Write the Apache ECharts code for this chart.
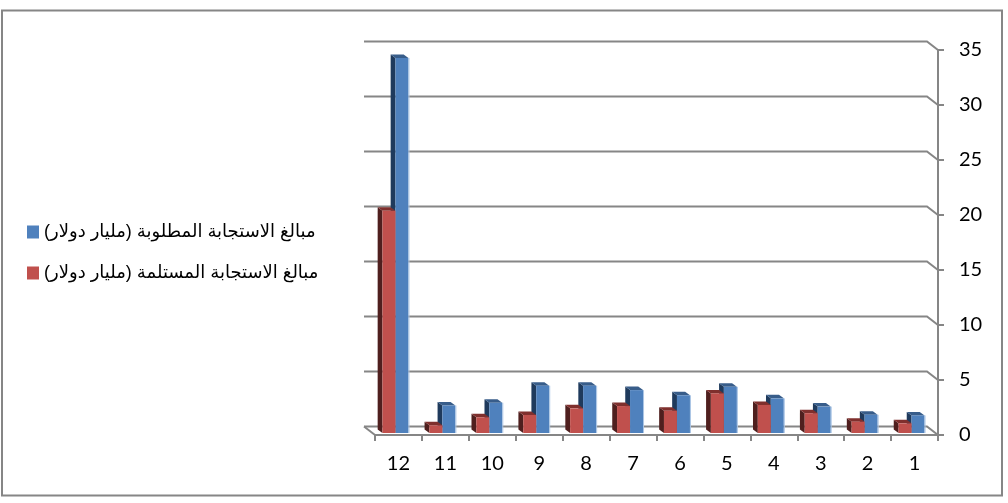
<!DOCTYPE html>
<html><head><meta charset="utf-8">
<style>html,body{margin:0;padding:0;background:#fff}#c{width:1008px;height:503px}</style>
<script src="https://cdn.jsdelivr.net/npm/echarts@6/dist/echarts.min.js"></script>
</head><body><div id="c"></div>
<script>
const categories = ['1','2','3','4','5','6','7','8','9','10','11','12'];
const requested = [1.6,1.66,2.4,3.15,4.2,3.43,3.9,4.3,4.3,2.75,2.5,34.1];
const received  = [0.88,1.03,1.8,2.55,3.6,2.03,2.45,2.24,1.64,1.43,0.7,20.2];
const ticks = [0,5,10,15,20,25,30,35];
const nameRequested = '\u202Bمبالغ الاستجابة المطلوبة (مليار دولار)\u202C';
const nameReceived  = '\u202Bمبالغ الاستجابة المستلمة (مليار دولار)\u202C';

const GRID = '#868686';
const DX = 4.8, DY = 3.5, BW = 13, BASE = -2, SHIFT = -3;

function barRender(side, front, dark, top) {
  return function (params, api) {
    const x = api.coord([api.value(0), 0])[0] + SHIFT;
    const p = api.coord([api.value(0), api.value(1)]);
    const y0 = api.coord([api.value(0), 0])[1] + BASE;
    const yt = p[1] + BASE;
    const xl = side < 0 ? x - BW : x, xr = xl + BW;
    const shape = pts => ({ points: pts });
    return { type: 'group', children: [
      { type: 'polygon', shape: shape([[xl-DX,yt-DY],[xl,yt],[xl,y0],[xl-DX,y0-DY]]), style: { fill: dark } },
      { type: 'polygon', shape: shape([[xl-DX,yt-DY],[xr-DX,yt-DY],[xr,yt],[xl,yt]]), style: { fill: top } },
      { type: 'rect', shape: { x: xl, y: yt, width: BW, height: y0-yt }, style: { fill: front } },
      { type: 'line', shape: { x1: xr+0.5, y1: yt, x2: xr+0.5, y2: y0 }, style: { stroke: side < 0 ? 'rgba(0,0,0,0)' : '#A9C4E4', lineWidth: 1 } }
    ]};
  };
}

function wallRender(params, api) {
  const cs = params.coordSys;
  const y = api.coord([0, api.value(0)])[1];
  const xl = cs.x - 11, xr = cs.x + cs.width;
  return { type: 'polyline', silent: true,
    shape: { points: [[xl, y-8.5],[xr-11, y-8.5],[xr, y]] },
    style: { fill: 'none', stroke: GRID, lineWidth: 2 } };
}

function floorRender(params, api) {
  const cs = params.coordSys;
  const y = api.coord([0, 0])[1];
  return { type: 'line', silent: true,
    shape: { x1: cs.x - 11, y1: y-8.5, x2: cs.x, y2: y },
    style: { stroke: GRID, lineWidth: 2 } };
}

const chart = echarts.init(document.getElementById('c'), null, { renderer: 'canvas' });
chart.setOption({
  animation: false,
  backgroundColor: '#fff',
  graphic: [{ type: 'rect', shape: { x: 2, y: 10.5, width: 1000, height: 485 }, style: { fill: 'none', stroke: '#868686', lineWidth: 2 }, silent: true }],
  grid: { left: 375, right: 70, top: 50, bottom: 68 },
  legend: {
    orient: 'vertical', left: 22, top: 218, padding: 5, itemWidth: 12, itemHeight: 13, itemGap: 23,
    icon: 'rect', data: [nameRequested, nameReceived],
    textStyle: { fontFamily: 'Liberation Sans, DejaVu Sans, Noto Sans', fontSize: 18, color: '#000' }
  },
  xAxis: { type: 'category', inverse: true, data: categories, boundaryGap: true,
    axisLine: { lineStyle: { color: GRID, width: 2 } },
    axisTick: { show: true, alignWithLabel: false, length: 6, lineStyle: { color: GRID, width: 2 } },
    axisLabel: { fontFamily: 'Lato', fontSize: 20, color: '#000', margin: 19 }
  },
  yAxis: { type: 'value', position: 'right', min: 0, max: 35, interval: 5,
    axisLine: { show: true, lineStyle: { color: GRID, width: 2 } },
    axisTick: { show: true, length: 6, lineStyle: { color: GRID, width: 2 } },
    splitLine: { show: false },
    axisLabel: { fontFamily: 'Lato', fontSize: 20, color: '#000', margin: 21 }
  },
  series: [
    { type: 'custom', name: 'wall', silent: true, z: 1, data: ticks.map(t => [t]), encode: { y: 0 }, renderItem: wallRender },
    { type: 'custom', name: 'floor', silent: true, z: 1, data: [[0]], encode: { y: 0 }, renderItem: floorRender },
    { type: 'custom', name: nameRequested, z: 3, itemStyle: { color: '#4F81BD' },
      data: categories.map((c,i) => [i, requested[i]]), encode: { x: 0, y: 1 },
      renderItem: barRender(1, '#4F81BD', '#1F3A5C', '#385D8A') },
    { type: 'custom', name: nameReceived, z: 4, itemStyle: { color: '#C0504D' },
      data: categories.map((c,i) => [i, received[i]]), encode: { x: 0, y: 1 },
      renderItem: barRender(-1, '#C0504D', '#4F1F1E', '#7F2F2D') }
  ]
});
</script></body></html>
